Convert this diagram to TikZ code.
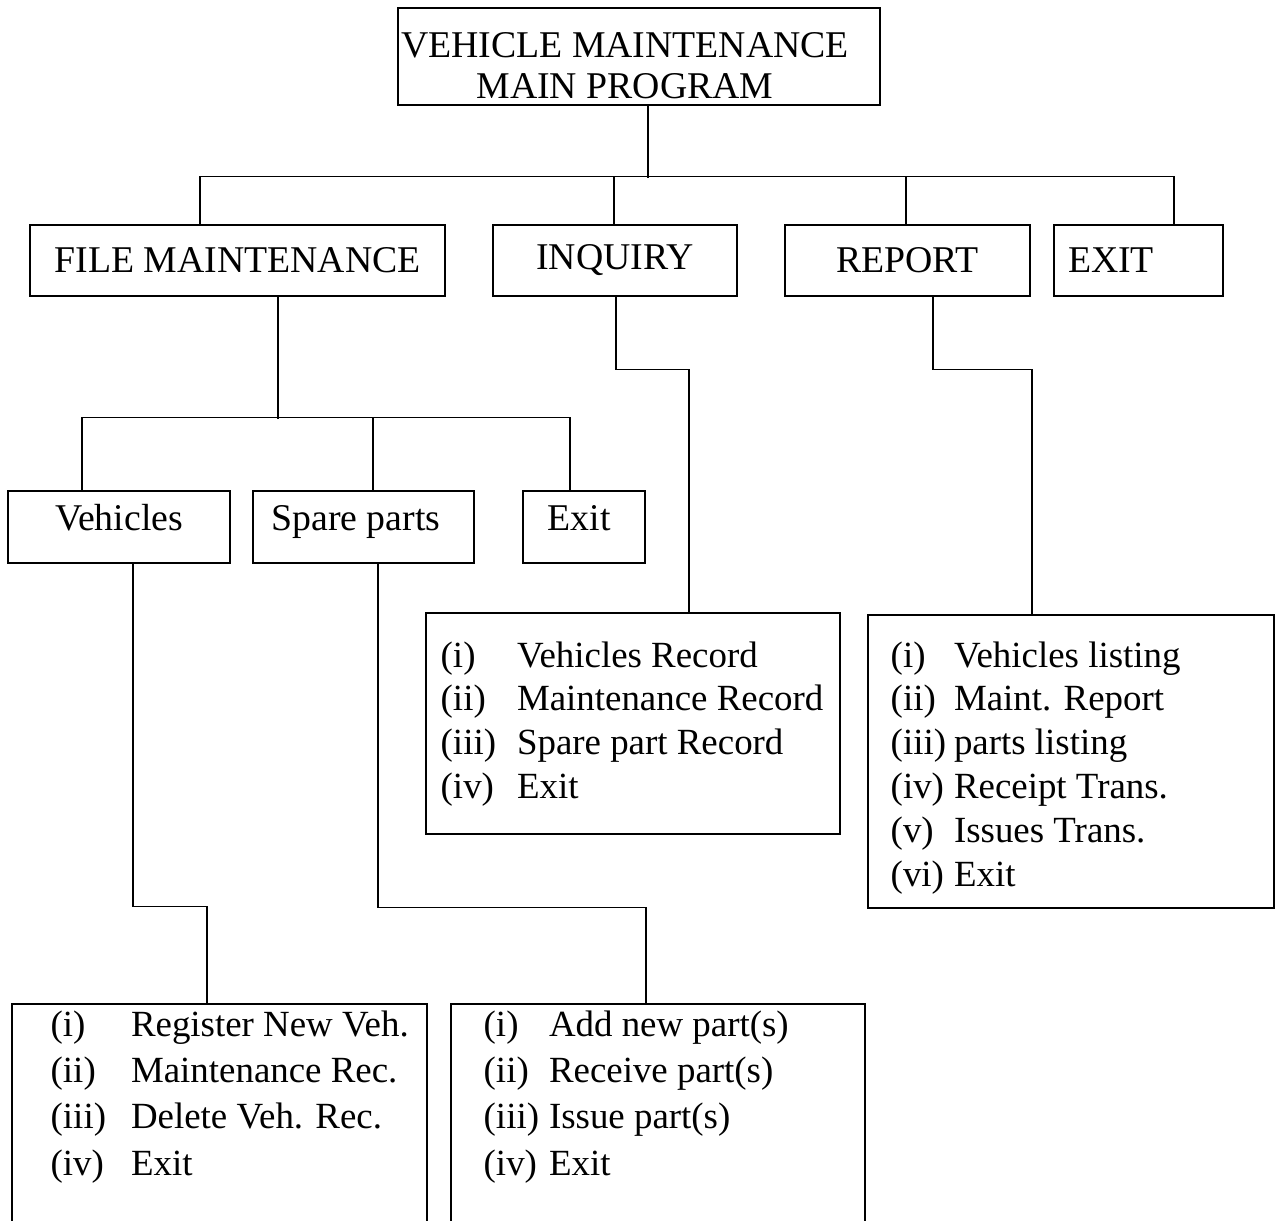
\documentclass[tikz,border=0pt]{standalone}
\usepackage{fontspec}
\setmainfont{Liberation Serif}

\newcommand{\pxu}{0.02cm}

\begin{document}
\begin{tikzpicture}[x=0.02cm,y=-0.02cm,line width=0.8pt,
	menubox/.style={draw,inner sep=0pt,font=\fontsize{21.5}{23}\selectfont},
	subbox/.style={menubox,text height=0.7em,text depth=0.25em},
	listbox/.style={draw,inner sep=0pt},
	listtext/.style={anchor=base west,inner sep=0pt,font=\fontsize{21}{25}\selectfont}]
	\useasboundingbox (0,0) rectangle (1284,1220);
	\clip (0,0) rectangle (1284,1220);
	% boxes
	\node[listbox,minimum width=482*\pxu,minimum height=97*\pxu] (M) at (639,56.5) {};
	\node[inner sep=0pt,align=center,font=\fontsize{21.5}{23.2}\selectfont] (Mt) at (625,66) {VEHICLE MAINTENANCE\\MAIN PROGRAM};
	\node[menubox,minimum width=415*\pxu,minimum height=71*\pxu] (F) at (237.5,260.5) {FILE MAINTENANCE};
	\node[menubox,minimum width=244*\pxu,minimum height=71*\pxu] (I) at (615,260.5) {INQUIRY};
	\node[menubox,minimum height=71*\pxu,minimum width=245*\pxu] (R) at (907.5,260.5) {REPORT};
	\node[menubox,minimum height=71*\pxu,text width=141*\pxu,inner xsep=14*\pxu,align=left] (X) at (1138.5,260.5) {EXIT};
	\node[subbox,minimum width=222*\pxu,minimum height=72*\pxu] (V) at (119,527) {Vehicles};
	\node[subbox,minimum width=221*\pxu,minimum height=72*\pxu] (S) at (363.5,527) {\hspace{-0.3cm}Spare parts};
	\node[subbox,minimum width=122*\pxu,minimum height=72*\pxu] (E) at (584,527) {\hspace{-0.2cm}Exit};
	\node[listbox,minimum width=414*\pxu,minimum height=221*\pxu] (IL) at (633,723.5) {};
	\node[listbox,minimum width=406*\pxu,minimum height=293*\pxu] (RL) at (1071,761.5) {};
	\node[listbox,minimum width=415*\pxu,minimum height=256*\pxu] (VL) at (219.5,1132) {};
	\node[listbox,minimum width=414*\pxu,minimum height=256*\pxu] (SL) at (658,1132) {};
	% menu items
	\node[listtext] (ILt) at (440,667) {\begin{tabular}[t]{@{}l@{\hspace{0.42cm}}l@{}}
		(i) & Vehicles Record\\
		(ii) & Maintenance Record\\
		(iii) & Spare part Record\\
		(iv) & Exit
	\end{tabular}};
	\node[listtext] (RLt) at (890,667) {\begin{tabular}[t]{@{}l@{\hspace{0.16cm}}l@{}}
		(i) & Vehicles listing\\
		(ii) & Maint. Report\\
		(iii) & parts listing\\
		(iv) & Receipt Trans.\\
		(v) & Issues Trans.\\
		(vi) & Exit
	\end{tabular}};
	\node[listtext,font=\fontsize{21}{26.4}\selectfont] (VLt) at (50,1036) {\begin{tabular}[t]{@{}l@{\hspace{0.5cm}}l@{}}
		(i) & Register New Veh.\\
		(ii) & Maintenance Rec.\\
		(iii) & Delete Veh. Rec.\\
		(iv) & Exit
	\end{tabular}};
	\node[listtext,font=\fontsize{21}{26.4}\selectfont] (SLt) at (483,1036) {\begin{tabular}[t]{@{}l@{\hspace{0.2cm}}l@{}}
		(i) & Add new part(s)\\
		(ii) & Receive part(s)\\
		(iii) & Issue part(s)\\
		(iv) & Exit
	\end{tabular}};
	% main menu
	\draw ([xshift=9*\pxu]M.south) -- ++(0,72);
	\draw ([xshift=-37.5*\pxu]F.north) -- ++(0,-48) -| ([xshift=35.5*\pxu]X.north);
	\draw ([xshift=-1*\pxu]I.north) -- ++(0,-48);
	\draw ([xshift=-1.5*\pxu]R.north) -- ++(0,-48);
	% file maintenance
	\draw ([xshift=40.5*\pxu]F.south) -- ++(0,122);
	\draw ([xshift=-37*\pxu]V.north) -- ++(0,-73) -| ([xshift=-14*\pxu]E.north);
	\draw ([xshift=9.5*\pxu]S.north) -- ++(0,-73);
	% sub menus
	\draw ([xshift=1*\pxu]I.south) -- ++(0,73) -| ([xshift=56*\pxu]IL.north);
	\draw ([xshift=25.5*\pxu]R.south) -- ++(0,73) -| ([xshift=-39*\pxu]RL.north);
	\draw ([xshift=14*\pxu]V.south) -- ++(0,343) -| ([xshift=-12.5*\pxu]VL.north);
	\draw ([xshift=14.5*\pxu]S.south) -- ++(0,344) -| ([xshift=-12*\pxu]SL.north);
\end{tikzpicture}
\end{document}
